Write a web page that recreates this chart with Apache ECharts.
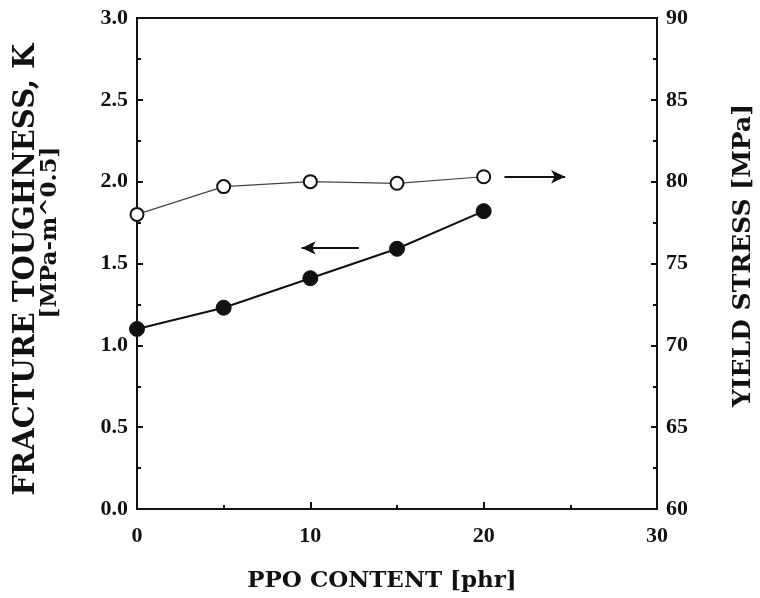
<!DOCTYPE html>
<html>
<head>
<meta charset="utf-8">
<script src="https://cdn.jsdelivr.net/npm/echarts@6/dist/echarts.min.js"></script>
<style>html,body{margin:0;padding:0;background:#fff;}#c{width:760px;height:598px;}</style>
</head>
<body>
<div id="c"></div>
<script>
var ppo = [0, 5, 10, 15, 20];
var toughness = [1.10, 1.23, 1.41, 1.59, 1.82];
var yieldStress = [78.0, 79.7, 80.0, 79.9, 80.3];
var leftArrow = [[12.8, 1.595], [9.5, 1.595]];
var rightArrow = [[21.2, 80.3], [24.7, 80.3]];

var FONT = '"Liberation Serif", "DejaVu Serif", serif';
var TFONT = '"DejaVu Serif", "Liberation Serif", serif';
var lbl = {color: '#111', fontFamily: FONT, fontWeight: 'bold', fontSize: 22};
var ttl = {color: '#111', fontFamily: TFONT, fontWeight: 'bold', fontSize: 23};

var chart = echarts.init(document.getElementById('c'), null, {renderer: 'canvas'});
chart.setOption({
  animation: false,
  backgroundColor: '#fff',
  grid: {left: 137, right: 103, top: 18, bottom: 89, containLabel: false, outerBoundsMode: 'none',
         show: true, borderColor: '#111', borderWidth: 2, backgroundColor: 'transparent'},
  xAxis: {
    type: 'value', min: 0, max: 30, interval: 10,
    name: 'PPO CONTENT [phr]', nameLocation: 'middle', nameGap: 61,
    nameTextStyle: Object.assign({}, ttl, {padding: [0, 30, 0, 0]}),
    axisLine: {show: true, lineStyle: {color: '#111', width: 2}},
    axisTick: {show: true, inside: true, length: 7, lineStyle: {color: '#111', width: 2}},
    minorTick: {show: true, splitNumber: 2, length: 4, lineStyle: {color: '#111', width: 2}},
    splitLine: {show: false},
    axisLabel: Object.assign({}, lbl, {margin: 16})
  },
  yAxis: [{
    type: 'value', min: 0, max: 3, interval: 0.5, position: 'left',
    name: '{a|FRACTURE TOUGHNESS, K}\n{b|[MPa-m^0.5]}', nameLocation: 'middle', nameGap: 76, nameRotate: 90,
    nameTextStyle: {
      color: '#111', fontFamily: TFONT, fontWeight: 'bold', padding: [0, 12, 0, 0],
      rich: {
        a: {color: '#111', fontFamily: TFONT, fontWeight: 'bold', fontSize: 29, lineHeight: 25},
        b: {color: '#111', fontFamily: TFONT, fontWeight: 'bold', fontSize: 23, lineHeight: 22, padding: [0, 0, 0, 74]}
      }
    },
    axisLine: {show: true, lineStyle: {color: '#111', width: 2}},
    axisTick: {show: true, inside: true, length: 6, lineStyle: {color: '#111', width: 2}},
    minorTick: {show: true, splitNumber: 2, length: 4, lineStyle: {color: '#111', width: 2}},
    splitLine: {show: false},
    axisLabel: Object.assign({}, lbl, {margin: 9, formatter: function (v) { return v.toFixed(1); }})
  }, {
    type: 'value', min: 60, max: 90, interval: 5, position: 'right',
    name: 'YIELD STRESS [MPa]', nameLocation: 'middle', nameGap: 74, nameRotate: 90,
    nameTextStyle: Object.assign({}, ttl, {fontSize: 25, padding: [0, 0, 0, 16]}),
    axisLine: {show: true, lineStyle: {color: '#111', width: 2}},
    axisTick: {show: true, inside: true, length: 6, lineStyle: {color: '#111', width: 2}},
    minorTick: {show: true, splitNumber: 2, length: 4, lineStyle: {color: '#111', width: 2}},
    splitLine: {show: false},
    axisLabel: Object.assign({}, lbl, {margin: 9})
  }],
  series: [{
    name: 'Fracture toughness', type: 'line', yAxisIndex: 0,
    data: ppo.map(function (x, i) { return [x, toughness[i]]; }),
    symbol: 'circle', symbolSize: 15,
    itemStyle: {color: '#111', borderColor: '#111', borderWidth: 1},
    lineStyle: {color: '#111', width: 2},
    z: 3,
    markLine: {
      silent: true, symbol: ['none', 'arrow'], symbolSize: [10, 14],
      label: {show: false},
      lineStyle: {color: '#111', width: 2, type: 'solid'},
      data: [[{coord: leftArrow[0]}, {coord: leftArrow[1]}]]
    }
  }, {
    name: 'Yield stress', type: 'line', yAxisIndex: 1,
    data: ppo.map(function (x, i) { return [x, yieldStress[i]]; }),
    symbol: 'circle', symbolSize: 13,
    itemStyle: {color: '#fff', borderColor: '#111', borderWidth: 2},
    lineStyle: {color: '#444', width: 1.2},
    z: 3,
    markLine: {
      silent: true, symbol: ['none', 'arrow'], symbolSize: [10, 14],
      label: {show: false},
      lineStyle: {color: '#111', width: 2, type: 'solid'},
      data: [[{coord: rightArrow[0]}, {coord: rightArrow[1]}]]
    }
  }]
});
</script>
</body>
</html>
